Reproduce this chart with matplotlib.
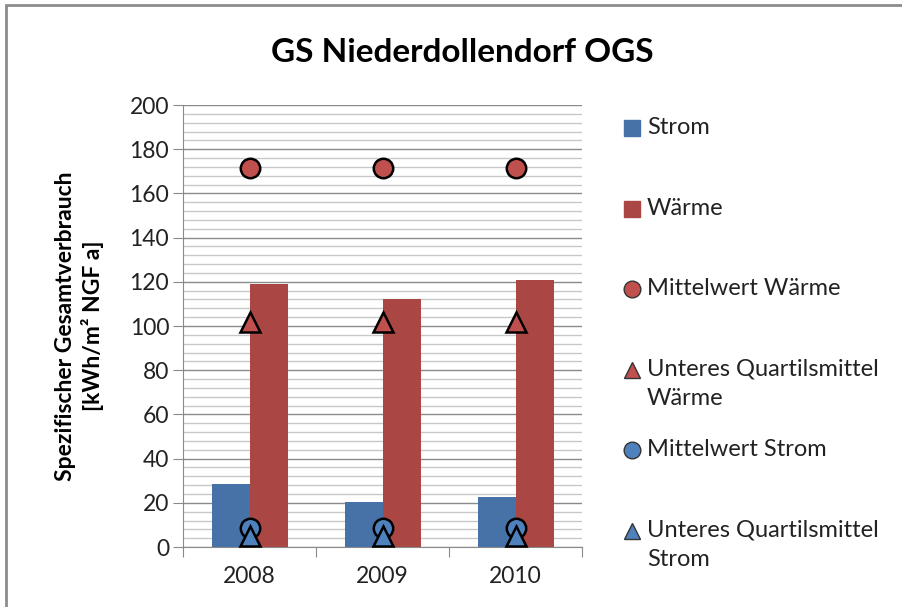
import matplotlib.pyplot as plt
from matplotlib.lines import Line2D
from matplotlib.patches import Rectangle
from matplotlib.ticker import MultipleLocator, FixedLocator

plt.rcParams['font.family'] = ['Lato', 'DejaVu Sans']

jahre = ['2008', '2009', '2010']
strom = [28.5, 20.4, 22.6]
waerme = [119.1, 112.0, 120.8]
mittel_waerme = [171.5, 171.5, 171.5]
quartil_waerme = [101.8, 101.8, 101.8]
mittel_strom = [8.6, 8.6, 8.6]
quartil_strom = [5.0, 5.0, 5.0]

c_strom = '#4672A8'
c_waerme = '#AA4643'
m_rot = '#C0504D'
m_blau = '#4F81BD'

fig = plt.figure(figsize=(9.03, 6.07), dpi=100)
ax = fig.add_axes([0.2027, 0.0988, 0.4419, 0.7282])

x = list(range(len(jahre)))
bw = 0.286
ax.bar([i - bw / 2 for i in x], strom, bw, color=c_strom, zorder=2)
ax.bar([i + bw / 2 for i in x], waerme, bw, color=c_waerme, zorder=2)

ms = 14
ax.plot(x, mittel_waerme, 'o', ms=ms, mfc=m_rot, mec='black', mew=1.8, zorder=3)
ax.plot(x, quartil_waerme, '^', ms=ms, mfc=m_rot, mec='black', mew=1.8, zorder=3)
ax.plot(x, mittel_strom, 'o', ms=ms, mfc=m_blau, mec='black', mew=1.8, zorder=3)
ax.plot(x, quartil_strom, '^', ms=ms, mfc=m_blau, mec='black', mew=1.8, zorder=3)

ax.set_xlim(-0.5, 2.5)
ax.set_ylim(0, 200)
ax.yaxis.set_major_locator(MultipleLocator(20))
ax.yaxis.set_minor_locator(MultipleLocator(4))
ax.grid(which='major', axis='y', color='#8a8a8a', lw=1.0, zorder=0)
ax.grid(which='minor', axis='y', color='#c8c8c8', lw=1.0, zorder=0)
ax.tick_params(axis='y', which='minor', length=0)
ax.tick_params(axis='y', which='major', length=7, color='#8a8a8a', labelsize=16.5,
               pad=3, labelcolor='#222222')

ax.xaxis.set_major_locator(FixedLocator([-0.5, 0.5, 1.5, 2.5]))
ax.xaxis.set_minor_locator(FixedLocator(x))
ax.set_xticklabels([])
ax.set_xticklabels(jahre, minor=True)
ax.tick_params(axis='x', which='major', length=7, color='#8a8a8a')
ax.tick_params(axis='x', which='minor', length=0, labelsize=16.5, pad=14,
               labelcolor='#222222')

for s in ['top', 'right']:
    ax.spines[s].set_visible(False)
ax.spines['left'].set_color('#8a8a8a')
ax.spines['bottom'].set_color('#8a8a8a')

ax.set_ylabel('Spezifischer Gesamtverbrauch\n[kWh/m² NGF a]', fontsize=16.5,
              fontweight='bold', labelpad=18, linespacing=1.3)

fig.text(0.512, 0.913, 'GS Niederdollendorf OGS', ha='center', va='center',
         fontsize=24, fontweight='bold')

# Legende rechts
labels = ['Strom', 'Wärme', 'Mittelwert Wärme', 'Unteres Quartilsmittel\nWärme',
          'Mittelwert Strom', 'Unteres Quartilsmittel\nStrom']
W, H = 903, 607
y0, dy = 128, 80.6
for k, lab in enumerate(labels):
    yp = 1 - (y0 + k * dy) / H
    xh = 632 / W
    if k < 2:
        col = c_strom if k == 0 else c_waerme
        fig.add_artist(Rectangle((xh - 8 / W, yp - 8 / H), 16 / W, 16 / H,
                                 transform=fig.transFigure, color=col))
    else:
        mk = 'o' if k in (2, 4) else '^'
        col = m_rot if k in (2, 3) else m_blau
        fig.add_artist(Line2D([xh], [yp], marker=mk, ms=12, mfc=col, mec='#333333',
                              mew=1, ls='none', transform=fig.transFigure))
    fig.text(647 / W, yp + 11 / H, lab, ha='left', va='top', fontsize=17,
             linespacing=1.5, color='#222222')

fig.add_artist(Rectangle((6 / W, -0.02), 1.02, 1 - 5 / H + 0.02, transform=fig.transFigure,
                         fill=False, ec='#8c8c8c', lw=2))

fig.savefig('out.png', dpi=100)
